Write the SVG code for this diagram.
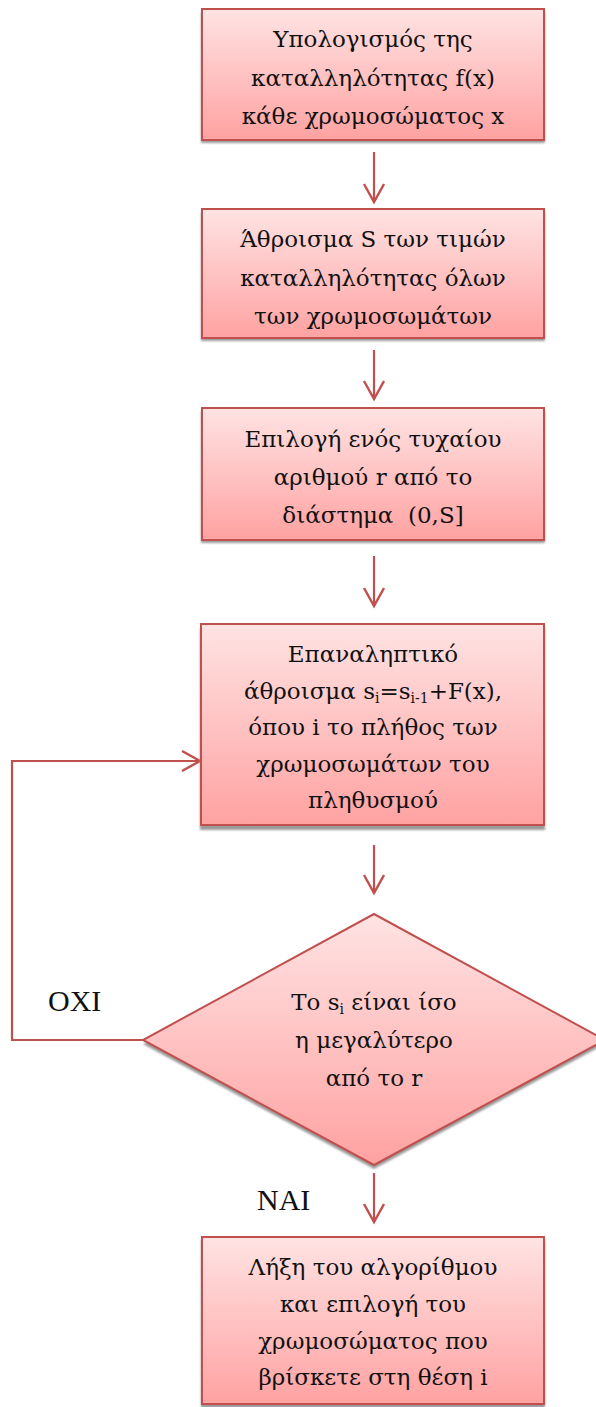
<svg xmlns="http://www.w3.org/2000/svg" width="596" height="1407" viewBox="0 0 596 1407">
  <defs>
    <linearGradient id="fillPink" x1="0" y1="0" x2="0" y2="1">
      <stop offset="0" stop-color="#ffe3e3"/>
      <stop offset="1" stop-color="#ffa2a2"/>
    </linearGradient>
    <filter id="soft" x="-10%" y="-10%" width="120%" height="120%">
      <feGaussianBlur stdDeviation="0.8"/>
    </filter>
    <marker id="arrow" markerUnits="userSpaceOnUse" markerWidth="24" markerHeight="26" refX="19" refY="11" orient="auto">
      <path d="M1,1 L19,11 L1,21" fill="none" stroke="#c0504d" stroke-width="2.4"/>
    </marker>
    <style>
      .box { fill: url(#fillPink); stroke: #c0504d; stroke-width: 2; }
      .shadow { fill: #9a9a9a; filter: url(#soft); }
      .label { font-family: "DejaVu Serif", "Liberation Serif", serif; font-size: 23px; fill: #111; text-anchor: middle; }
      .tag { font-family: "Liberation Serif", "DejaVu Serif", serif; font-size: 30px; fill: #111; }
      .sub { font-size: 14px; }
      .link { fill: none; stroke: #c0504d; stroke-width: 2.2; }
    </style>
  </defs>

  <!-- connectors -->
  <g id="connectors">
    <line class="link" x1="374" y1="152" x2="374" y2="202" marker-end="url(#arrow)"/>
    <line class="link" x1="374" y1="350" x2="374" y2="399" marker-end="url(#arrow)"/>
    <line class="link" x1="374" y1="556" x2="374" y2="606" marker-end="url(#arrow)"/>
    <line class="link" x1="374" y1="845" x2="374" y2="893" marker-end="url(#arrow)"/>
    <line class="link" x1="374" y1="1173" x2="374" y2="1222" marker-end="url(#arrow)"/>
    <path class="link" d="M143,1040 L12,1040 L12,761 L200,761" marker-end="url(#arrow)"/>
    <text class="tag" x="48" y="1011">ΟΧΙ</text>
    <text class="tag" x="257" y="1210">ΝΑΙ</text>
  </g>

  <!-- fitness of each chromosome -->
  <g id="node-fitness">
    <rect class="shadow" x="201" y="12" width="344" height="131"/>
    <rect class="box" x="202" y="9" width="342" height="131"/>
    <text class="label" x="373" y="47">Υπολογισμός της</text>
    <text class="label" x="373" y="85.5">καταλληλότητας f(x)</text>
    <text class="label" x="373" y="124">κάθε χρωμοσώματος x</text>
  </g>

  <!-- total fitness S -->
  <g id="node-sum">
    <rect class="shadow" x="201" y="212" width="344" height="129"/>
    <rect class="box" x="202" y="209" width="342" height="129"/>
    <text class="label" x="373" y="247">Άθροισμα S των τιμών</text>
    <text class="label" x="373" y="285.5">καταλληλότητας όλων</text>
    <text class="label" x="373" y="324">των χρωμοσωμάτων</text>
  </g>

  <!-- random number r -->
  <g id="node-random">
    <rect class="shadow" x="201" y="411" width="344" height="132"/>
    <rect class="box" x="202" y="408" width="342" height="132"/>
    <text class="label" x="373" y="447">Επιλογή ενός τυχαίου</text>
    <text class="label" x="373" y="485">αριθμού r από το</text>
    <text class="label" x="373" y="523" xml:space="preserve">διάστημα  (0,S]</text>
  </g>

  <!-- running sum -->
  <g id="node-running-sum">
    <rect class="shadow" x="200" y="628" width="345" height="202"/>
    <rect class="box" x="201" y="624" width="343" height="201"/>
    <text class="label" x="373" y="662">Επαναληπτικό</text>
    <text class="label" x="373" y="698.5">άθροισμα s<tspan class="sub" dy="4">i</tspan><tspan dy="-4">=s</tspan><tspan class="sub" dy="4">i-1</tspan><tspan dy="-4">+F(x),</tspan></text>
    <text class="label" x="373" y="735">όπου i το πλήθος των</text>
    <text class="label" x="373" y="771.5">χρωμοσωμάτων του</text>
    <text class="label" x="373" y="808">πληθυσμού</text>
  </g>

  <!-- decision -->
  <g id="node-decision">
    <polygon class="shadow" points="374,918 605,1044 374,1169 143,1044"/>
    <polygon class="box" points="374,914 605,1040 374,1165 143,1040"/>
    <text class="label" x="374" y="1010">Το s<tspan class="sub" dy="4">i</tspan><tspan dy="-4"> είναι ίσο</tspan></text>
    <text class="label" x="374" y="1048">η μεγαλύτερο</text>
    <text class="label" x="374" y="1086">από το r</text>
  </g>

  <!-- end -->
  <g id="node-end">
    <rect class="shadow" x="201" y="1240" width="344" height="168"/>
    <rect class="box" x="202" y="1237" width="342" height="167"/>
    <text class="label" x="373" y="1275">Λήξη του αλγορίθμου</text>
    <text class="label" x="373" y="1312">και επιλογή του</text>
    <text class="label" x="373" y="1348.5">χρωμοσώματος που</text>
    <text class="label" x="373" y="1385">βρίσκετε στη θέση i</text>
  </g>
</svg>
